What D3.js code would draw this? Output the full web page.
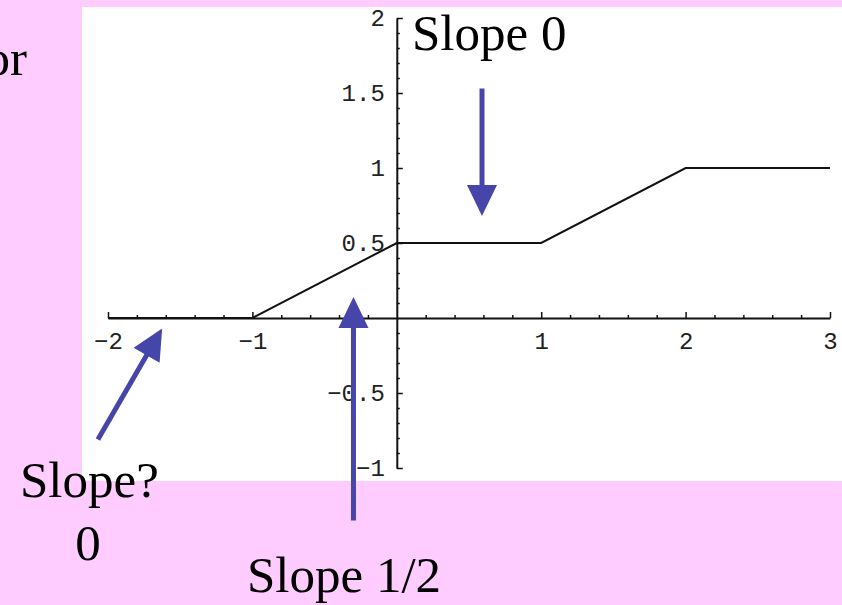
<!DOCTYPE html>
<html>
<head>
<meta charset="utf-8">
<script src="https://cdn.jsdelivr.net/npm/d3@7"></script>
<style>
  body { margin: 0; background: #ffccff; }
  svg { display: block; }
  .tick text { font-family: "Liberation Mono", "DejaVu Sans Mono", monospace; font-size: 24px; fill: #222; }
  .note { font-family: "Liberation Serif", "Times New Roman", serif; font-size: 51px; fill: #000; }
</style>
</head>
<body>
<script>
// piecewise function: 0, rising 1/2, flat 1/2, rising 1/2, flat 1
var xs = [-2, -1, 0, 1, 2, 3]
var ys = [0, 0, 0.5, 0.5, 1, 1]

var xMajor = [-2, -1, 1, 2, 3]
var yMajor = [-1, -0.5, 0.5, 1, 1.5, 2]

// arrows in data units: [tailX, tailY, tipX, tipY]
var arrows = [
  [0.59, 1.53, 0.59, 0.68],
  [-0.30, -1.35, -0.30, 0.14],
  [-2.07, -0.81, -1.625, -0.07]
]

var svg = d3.select("body").append("svg").attr("width", 842).attr("height", 605)

// white plot panel
svg.append("rect").attr("x", 82).attr("y", 7).attr("width", 760).attr("height", 474).attr("fill", "#fff")

var x = d3.scaleLinear().domain([-2, 3]).range([108, 830])
var y = d3.scaleLinear().domain([-1, 2]).range([468, 18])

var fmt = function(d) { return d < 0 ? "\u2212" + Math.abs(d) : String(d) }

// minor ticks
var xMinor = d3.range(-2, 3.001, 0.2).filter(function(d) { return Math.abs(d - Math.round(d)) > 1e-6 })
var yMinor = d3.range(-1, 2.001, 0.1).filter(function(d) { return Math.abs(d * 2 - Math.round(d * 2)) > 1e-6 })

var gx = svg.append("g").attr("transform", "translate(0," + y(0) + ")")
gx.call(d3.axisBottom(x).tickValues(xMajor).tickFormat(fmt).tickSizeInner(-6).tickSizeOuter(0).tickPadding(14))
gx.append("g").call(d3.axisBottom(x).tickValues(xMinor).tickFormat("").tickSizeInner(-3).tickSizeOuter(0))
  .select(".domain").remove()

var gy = svg.append("g").attr("transform", "translate(" + x(0) + ",0)")
gy.call(d3.axisLeft(y).tickValues(yMajor).tickFormat(fmt).tickSizeInner(-6).tickSizeOuter(0).tickPadding(12))
gy.append("g").call(d3.axisLeft(y).tickValues(yMinor).tickFormat("").tickSizeInner(-3).tickSizeOuter(0))
  .select(".domain").remove()

svg.selectAll(".domain").attr("stroke", "#111").attr("stroke-width", 2)
svg.selectAll(".tick line").attr("stroke", "#111").attr("stroke-width", 1.5)

// the function itself
var line = d3.line().x(function(d, i) { return x(xs[i]) }).y(function(d) { return y(d) })
svg.append("path").datum(ys).attr("d", line)
  .attr("fill", "none").attr("stroke", "#111").attr("stroke-width", 2)

// blue arrows
var blue = "#4646aa"
arrows.forEach(function(a) {
  var x1 = x(a[0]), y1 = y(a[1]), x2 = x(a[2]), y2 = y(a[3])
  var dx = x2 - x1, dy = y2 - y1, len = Math.sqrt(dx * dx + dy * dy)
  var ux = dx / len, uy = dy / len, hl = 31, hw = 15
  var bx = x2 - ux * hl, by = y2 - uy * hl
  svg.append("line").attr("x1", x1).attr("y1", y1).attr("x2", bx + ux * 2).attr("y2", by + uy * 2)
    .attr("stroke", blue).attr("stroke-width", 5)
  svg.append("path")
    .attr("d", "M" + x2 + "," + y2 + "L" + (bx - uy * hw) + "," + (by + ux * hw) + "L" + (bx + uy * hw) + "," + (by - ux * hw) + "Z")
    .attr("fill", blue)
})

// slide text
svg.append("text").attr("class", "note").attr("x", 27).attr("y", 75).attr("text-anchor", "end").text("or")
svg.append("text").attr("class", "note").attr("x", 412).attr("y", 50).text("Slope 0")
svg.append("text").attr("class", "note").attr("x", 20).attr("y", 497).text("Slope?")
svg.append("text").attr("class", "note").attr("x", 88).attr("y", 560).attr("text-anchor", "middle").text("0")
svg.append("text").attr("class", "note").attr("x", 247).attr("y", 592).text("Slope 1/2")
</script>
</body>
</html>
